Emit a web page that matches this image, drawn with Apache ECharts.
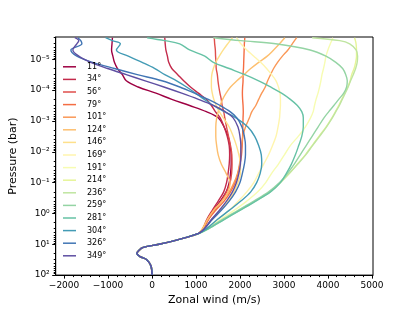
<!DOCTYPE html>
<html><head><meta charset="utf-8">
<script src="https://cdn.jsdelivr.net/npm/echarts@6/dist/echarts.min.js"></script>
<style>html,body{margin:0;padding:0;background:#fff}#c{width:415px;height:311px}</style>
</head><body><div id="c"></div>
<script>
// longitudes (legend labels)
const LONGITUDES = ['11°','34°','56°','79°','101°','124°','146°','169°','191°','214°','236°','259°','281°','304°','326°','349°'];
// pressure levels of the upper (longitude-dependent) part, bar
const PRESSURE_UPPER = [2.0e-6, 2.5e-6, 3.16e-6, 5.0e-6, 7.94e-6, 1.26e-5, 2.0e-5, 3.16e-5, 5.0e-5, 7.94e-5,
  1.26e-4, 2.0e-4, 3.16e-4, 5.0e-4, 7.94e-4, 1.58e-3, 3.16e-3, 6.31e-3, 1.26e-2, 2.51e-2,
  5.01e-2, 0.1, 0.2, 0.398, 0.794, 1.58, 3.16];
// deep levels where all profiles coincide
const PRESSURE_DEEP = [4.47, 6.31, 7.94, 10, 12.6, 15.8, 20, 25.1, 31.6, 50.1, 100];
const WIND_DEEP = [1060, 720, 470, 160, -200, -300, -345, -270, -120, -25, 0];

// zonal wind (m/s) at PRESSURE_UPPER for each longitude
const W_011 = [-900,-905,-910,-920,-890,-855,-785,-675,-585,-315,90,450,855,1235,1505,1640,1730,1775,1800,1800,1785,1755,1685,1550,1395,1260,1170];
const W_034 = [290,295,300,315,350,380,450,585,720,875,1055,1235,1350,1440,1550,1640,1710,1755,1765,1755,1730,1695,1630,1505,1370,1245,1155];
const W_056 = [1415,1420,1425,1440,1445,1455,1460,1485,1500,1520,1545,1575,1595,1630,1655,1695,1740,1785,1815,1820,1810,1775,1695,1575,1425,1280,1170];
const W_079 = [2110,2105,2100,2095,2090,2085,2080,2070,2070,2060,2055,2060,2070,2075,2070,2065,2060,2050,2035,2000,1955,1890,1785,1640,1450,1280,1155];
const W_101 = [3290,3240,3190,3090,2965,2855,2765,2695,2630,2575,2495,2425,2360,2270,2215,2125,2065,2035,2010,1990,1945,1865,1755,1585,1395,1260,1145];
const W_124 = [3020,2960,2900,2765,2620,2425,2245,2090,1930,1785,1685,1605,1550,1505,1470,1450,1450,1470,1505,1575,1685,1775,1730,1595,1405,1260,1145];
const W_146 = [1830,1775,1720,1620,1530,1450,1395,1360,1350,1350,1370,1405,1460,1530,1620,1755,1845,1920,1975,2010,2010,1955,1865,1730,1550,1350,1190];
const W_169 = [1920,1970,2020,2155,2315,2470,2605,2720,2820,2875,2910,2920,2920,2910,2900,2865,2820,2740,2650,2540,2425,2315,2155,1965,1755,1485,1235];
const W_191 = [4110,4085,4055,4000,3955,3930,3900,3865,3840,3810,3775,3730,3695,3665,3605,3485,3325,3145,3010,2875,2720,2585,2405,2155,1865,1550,1260];
const W_214 = [4605,4625,4640,4650,4650,4630,4595,4540,4505,4450,4380,4315,4245,4170,4090,3955,3795,3640,3485,3305,3125,2920,2675,2335,1975,1620,1280];
const W_236 = [3640,4270,4495,4640,4675,4665,4630,4575,4515,4460,4395,4325,4260,4180,4100,3965,3810,3650,3495,3315,3125,2920,2685,2350,1990,1630,1280];
const W_259 = [1395,2020,2810,3595,3955,4180,4335,4405,4440,4425,4360,4245,4135,4020,3910,3775,3640,3505,3370,3235,3080,2900,2650,2315,1955,1595,1260];
const W_281 = [-110,290,630,855,1200,1395,1755,2110,2425,2695,2945,3145,3305,3405,3440,3440,3405,3335,3260,3170,3055,2920,2695,2360,2000,1640,1280];
const W_304 = [-1055,-900,-720,-810,-540,-225,65,290,560,785,990,1190,1395,1640,1910,2180,2335,2425,2485,2495,2460,2380,2245,2020,1755,1485,1235];
const W_326 = [-1685,-1620,-1595,-1845,-1710,-1350,-855,-335,225,630,965,1280,1550,1775,1930,2045,2100,2125,2125,2100,2055,2000,1900,1755,1575,1370,1190];
const W_349 = [-1755,-1665,-1710,-1800,-1665,-1395,-1010,-585,-155,270,675,1055,1395,1665,1845,1955,2000,2020,2020,2010,1975,1920,1830,1695,1530,1350,1190];

const WINDS = [W_011,W_034,W_056,W_079,W_101,W_124,W_146,W_169,W_191,W_214,W_236,W_259,W_281,W_304,W_326,W_349];
const COLORS = ['#9e0142','#c32a4b','#df4e4b','#f46d43','#fa9857','#fdbf6f','#fee08b','#fff5ae','#f7fcb2','#e6f598','#bfe5a0','#94d4a4','#66c2a5','#439bb5','#4175b4','#5e4fa2'];

const X_TICKS = [-2000,-1000,0,1000,2000,3000,4000,5000];
const X_MINOR = [-1800,-1600,-1400,-1200,-800,-600,-400,-200,200,400,600,800,1200,1400,1600,1800,2200,2400,2600,2800,3200,3400,3600,3800,4200,4400,4600,4800];
const Y_TICKS = [1e-5,1e-4,1e-3,1e-2,1e-1,1,10,100];
const Y_MINOR = [];
[1e-6,1e-5,1e-4,1e-3,1e-2,1e-1,1,10].forEach(d => { for (let k = 2; k <= 9; k++) { const v = +(d*k).toPrecision(3); if (v >= 1.9e-6 && v <= 100) Y_MINOR.push(v); } });

const SUP = {'-':'⁻','0':'⁰','1':'¹','2':'²','3':'³','4':'⁴','5':'⁵','6':'⁶','7':'⁷','8':'⁸','9':'⁹'};
function yFmt(v) {
  const e = String(Math.round(Math.log10(v)));
  return '10' + e.split('').map(c => SUP[c]).join('');
}
function xFmt(v) { return v < 0 ? '\u2212' + Math.abs(v) : String(v); }

const FONT = 'DejaVu Sans';
const XMIN = -2190, XMAX = 5025, YMIN = 1.9e-6, YMAX = 100;

const series = LONGITUDES.map((name, i) => ({
  name: name,
  type: 'line',
  showSymbol: false,
  symbol: 'none',
  smooth: 0.35,
  clip: true,
  color: COLORS[i],
  lineStyle: { width: 1.4, color: COLORS[i] },
  data: PRESSURE_UPPER.map((p, j) => [WINDS[i][j], p]).concat(PRESSURE_DEEP.map((p, j) => [WIND_DEEP[j], p]))
}));

const chart = echarts.init(document.getElementById('c'), null, { renderer: 'canvas' });
chart.setOption({
  animation: false,
  backgroundColor: '#fff',
  grid: { left: 51, right: 42, top: 37, bottom: 34, show: true, borderColor: '#000', borderWidth: 1, backgroundColor: 'transparent' },
  legend: {
    orient: 'vertical', left: 58, top: 57,
    icon: 'rect', itemWidth: 13, itemHeight: 1.5, itemGap: 3,
    data: LONGITUDES,
    textStyle: { fontSize: 8, fontFamily: FONT, color: '#000', padding: [0,0,0,6], lineHeight: 9.6 }
  },
  xAxis: [{
    type: 'value', min: XMIN, max: XMAX, position: 'bottom',
    name: 'Zonal wind (m/s)', nameLocation: 'middle', nameGap: 14,
    nameTextStyle: { fontSize: 11, fontFamily: FONT, color: '#000', verticalAlign: 'top' },
    axisLine: { show: true, onZero: false, lineStyle: { color: '#000', width: 1 } },
    axisTick: { show: true, customValues: X_TICKS, length: 3.5, lineStyle: { color: '#000' } },
    axisLabel: { customValues: X_TICKS, formatter: xFmt, fontSize: 9, fontFamily: FONT, color: '#000', margin: 6 },
    splitLine: { show: false }
  }, {
    type: 'value', min: XMIN, max: XMAX, position: 'bottom',
    axisLine: { show: false, onZero: false },
    axisTick: { show: true, customValues: X_MINOR, length: 2, lineStyle: { color: '#000' } },
    axisLabel: { show: false },
    splitLine: { show: false }
  }],
  yAxis: [{
    type: 'log', logBase: 10, min: YMIN, max: YMAX, inverse: true, position: 'left',
    name: 'Pressure (bar)', nameLocation: 'middle', nameGap: 31,
    nameTextStyle: { fontSize: 11, fontFamily: FONT, color: '#000' },
    axisLine: { show: true, onZero: false, lineStyle: { color: '#000', width: 1 } },
    axisTick: { show: true, customValues: Y_TICKS, length: 3.5, lineStyle: { color: '#000' } },
    axisLabel: { customValues: Y_TICKS, formatter: yFmt, fontSize: 9, fontFamily: FONT, color: '#000', margin: 6 },
    splitLine: { show: false }
  }, {
    type: 'log', logBase: 10, min: YMIN, max: YMAX, inverse: true, position: 'left',
    axisLine: { show: false, onZero: false },
    axisTick: { show: true, customValues: Y_MINOR, length: 2, lineStyle: { color: '#000' } },
    axisLabel: { show: false },
    splitLine: { show: false }
  }],
  series: series
});
</script></body></html>
